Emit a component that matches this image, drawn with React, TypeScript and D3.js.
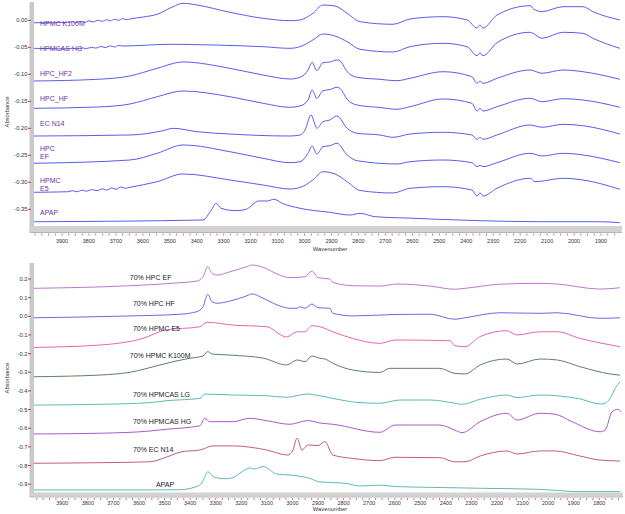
import React from 'react';
import * as d3 from 'd3';

type Pt = [number, number];

// ---------- top panel: neat polymers + APAP (wavenumber, absorbance) ----------
const topK100M: Pt[] = [
  [4004, -0.0044], [3940, -0.0046], [3880, -0.004], [3860, -0.0025], [3850, -0.0045], [3830, -0.002],
  [3815, -0.004], [3800, -0.001], [3785, -0.003], [3765, 0.0], [3750, -0.002], [3735, 0.001], [3720, -0.001],
  [3705, 0.002], [3690, 0.0], [3675, 0.003], [3660, 0.001], [3648, 0.0024], [3600, 0.006], [3547, 0.0111],
  [3488, 0.0252], [3451, 0.0315], [3399, 0.0283], [3277, 0.0148], [3154, 0.0037], [3054, -0.0007],
  [3017, 0.0006], [2969, 0.013], [2932, 0.0283], [2887, 0.0265], [2842, 0.013], [2794, -0.0026],
  [2672, -0.0074], [2609, 0.0024], [2486, 0.0067], [2397, 0.0006], [2360, -0.0143], [2349, -0.0087],
  [2338, -0.0143], [2286, 0.0098], [2163, 0.027], [2150, 0.021], [2119, 0.016], [2041, 0.0252],
  [1967, 0.0252], [1930, 0.016], [1830, 0.0006],
];
const topHPMCASHG: Pt[] = [
  [4004, -0.0519], [3880, -0.053], [3860, -0.0515], [3845, -0.053], [3825, -0.051], [3810, -0.0525],
  [3790, -0.05], [3775, -0.0515], [3755, -0.0485], [3740, -0.0505], [3720, -0.0475], [3705, -0.0495],
  [3690, -0.0465], [3674, -0.0476], [3499, -0.0444], [3340, -0.0457], [3154, -0.0489], [3054, -0.0519],
  [3017, -0.0489], [2969, -0.0365], [2932, -0.0254], [2887, -0.0291], [2842, -0.0396], [2794, -0.0537],
  [2672, -0.0587], [2609, -0.0489], [2486, -0.0426], [2397, -0.0489], [2360, -0.0656], [2349, -0.06],
  [2338, -0.0656], [2286, -0.0415], [2163, -0.0222], [2119, -0.0333], [2041, -0.0222], [1967, -0.0241],
  [1930, -0.0333], [1830, -0.0519],
];
const topHPCHF2: Pt[] = [
  [4004, -0.1124], [3770, -0.1093], [3648, -0.1031], [3547, -0.0889], [3451, -0.0772], [3277, -0.0889],
  [3154, -0.1013], [3054, -0.1087], [3017, -0.1056], [2987, -0.092], [2972, -0.0778], [2954, -0.0933],
  [2932, -0.0785], [2906, -0.0772], [2880, -0.0735], [2868, -0.0754], [2842, -0.0952], [2805, -0.1056],
  [2720, -0.1093], [2657, -0.1119], [2609, -0.1074], [2486, -0.0952], [2379, -0.1044], [2360, -0.1167],
  [2349, -0.1124], [2338, -0.1167], [2286, -0.1074], [2163, -0.092], [2119, -0.0981], [2041, -0.092],
  [1967, -0.0952], [1830, -0.1093],
];
const topHPCHF: Pt[] = [
  [4004, -0.163], [3770, -0.1606], [3648, -0.155], [3547, -0.1415], [3451, -0.1309], [3277, -0.1415],
  [3154, -0.1537], [3054, -0.1611], [3017, -0.1587], [2987, -0.1476], [2972, -0.1291], [2954, -0.1444],
  [2932, -0.1304], [2906, -0.1281], [2880, -0.1241], [2868, -0.1263], [2842, -0.1463], [2805, -0.1569],
  [2720, -0.1615], [2657, -0.1648], [2609, -0.16], [2486, -0.1457], [2379, -0.1537], [2360, -0.168],
  [2349, -0.163], [2338, -0.168], [2286, -0.16], [2163, -0.1444], [2119, -0.1507], [2041, -0.1452],
  [1967, -0.1476], [1830, -0.1611],
];
const topECN14: Pt[] = [
  [4004, -0.2143], [3648, -0.2124], [3525, -0.2044], [3488, -0.2], [3399, -0.2063], [3277, -0.2106],
  [3054, -0.2143], [3017, -0.2124], [2998, -0.2031], [2976, -0.1754], [2954, -0.2], [2932, -0.1878],
  [2906, -0.1846], [2880, -0.1772], [2842, -0.2], [2805, -0.2093], [2720, -0.2124], [2672, -0.2167],
  [2609, -0.2106], [2486, -0.2074], [2379, -0.2124], [2360, -0.2204], [2349, -0.2167], [2338, -0.2204],
  [2286, -0.2124], [2163, -0.1939], [2119, -0.1981], [2041, -0.1926], [1967, -0.1952], [1830, -0.2106],
];
const topHPCEF: Pt[] = [
  [4004, -0.2648], [3648, -0.2587], [3547, -0.2463], [3451, -0.2309], [3277, -0.2433], [3154, -0.2556],
  [3054, -0.2637], [3017, -0.2619], [2987, -0.2463], [2972, -0.2328], [2954, -0.2476], [2932, -0.2341],
  [2906, -0.2322], [2880, -0.2278], [2842, -0.2494], [2805, -0.26], [2657, -0.2661], [2609, -0.2619],
  [2486, -0.2587], [2379, -0.2637], [2360, -0.2711], [2349, -0.2685], [2338, -0.2711], [2286, -0.2637],
  [2163, -0.2463], [2119, -0.2513], [2041, -0.2463], [1967, -0.2494], [1830, -0.2637],
];
const topHPMCE5: Pt[] = [
  [4004, -0.3185], [3880, -0.3175], [3860, -0.3155], [3845, -0.3175], [3825, -0.3145], [3810, -0.3165],
  [3790, -0.3135], [3770, -0.3155], [3750, -0.312], [3735, -0.3145], [3715, -0.3105], [3700, -0.313],
  [3680, -0.3085], [3665, -0.311], [3648, -0.3093], [3547, -0.2989], [3451, -0.2846], [3277, -0.2957],
  [3154, -0.305], [3054, -0.3124], [3017, -0.3096], [2969, -0.2957], [2932, -0.2804], [2887, -0.2846],
  [2842, -0.2989], [2794, -0.3152], [2672, -0.3198], [2609, -0.3111], [2486, -0.3081], [2379, -0.3143],
  [2360, -0.3254], [2349, -0.3193], [2338, -0.3254], [2286, -0.3111], [2163, -0.2926], [2145, -0.2989],
  [2041, -0.2926], [1967, -0.2957], [1830, -0.313],
];
const topAPAP: Pt[] = [
  [4004, -0.373], [3377, -0.3698], [3346, -0.3513], [3328, -0.3389], [3310, -0.3481], [3254, -0.3526],
  [3217, -0.35], [3169, -0.3346], [3139, -0.3346], [3113, -0.3315], [3083, -0.3389], [3017, -0.3481],
  [2906, -0.3556], [2831, -0.3606], [2794, -0.3574], [2738, -0.3637], [2590, -0.3667], [2506, -0.3685],
  [2349, -0.3711], [2126, -0.373], [1904, -0.373], [1830, -0.3748],
];

const topSeries = [topK100M, topHPMCASHG, topHPCHF2, topHPCHF, topECN14, topHPCEF, topHPMCE5, topAPAP];
const topNames = ['HPMC K100M', 'HPMCAS HG', 'HPC_HF2', 'HPC_HF', 'EC N14', 'HPC\nEF', 'HPMC\nE5', 'APAP'];
const topNameAt = [-0.0056, -0.0519, -0.0981, -0.1444, -0.1907, -0.237, -0.297, -0.356];
const topYTicks = [0, -0.05, -0.1, -0.15, -0.2, -0.25, -0.3, -0.35];
const topXTicks = [3900, 3800, 3700, 3600, 3500, 3400, 3300, 3200, 3100, 3000, 2900, 2800, 2700, 2600, 2500, 2400, 2300, 2200, 2100, 2000, 1900];

// ---------- bottom panel: 70% APAP dispersions ----------
const botHPCEF: Pt[] = [
  [4011, 0.15], [3635, 0.164], [3440, 0.18], [3374, 0.189], [3350, 0.212], [3331, 0.266], [3315, 0.231],
  [3295, 0.221], [3244, 0.239], [3178, 0.266], [3158, 0.275], [3115, 0.263], [3060, 0.227], [3010, 0.207],
  [2982, 0.209], [2951, 0.212], [2924, 0.243], [2900, 0.207], [2854, 0.2], [2842, 0.182], [2764, 0.164],
  [2658, 0.162], [2591, 0.173], [2462, 0.162], [2365, 0.145], [2325, 0.15], [2188, 0.172], [2032, 0.177],
  [1965, 0.173], [1797, 0.146], [1719, 0.153],
];
const botHPCHF: Pt[] = [
  [4011, -0.008], [3635, 0.002], [3440, 0.011], [3374, 0.025], [3350, 0.051], [3331, 0.118], [3315, 0.078],
  [3295, 0.07], [3244, 0.082], [3178, 0.11], [3158, 0.12], [3115, 0.097], [3060, 0.061], [3010, 0.043],
  [2982, 0.043], [2971, 0.051], [2951, 0.043], [2924, 0.066], [2900, 0.046], [2854, 0.043], [2842, 0.016],
  [2764, 0.002], [2591, 0.01], [2462, 0.011], [2365, -0.016], [2325, -0.008], [2188, 0.019], [2032, 0.016],
  [1965, 0.019], [1797, -0.011], [1719, -0.008],
];
const botHPMCE5: Pt[] = [
  [4011, -0.167], [3753, -0.154], [3584, -0.118], [3495, -0.073], [3362, -0.056], [3335, -0.032],
  [3233, -0.047], [3100, -0.056], [3023, -0.111], [2982, -0.083], [2951, -0.083], [2924, -0.05],
  [2893, -0.056], [2842, -0.083], [2764, -0.119], [2658, -0.145], [2599, -0.127], [2384, -0.131],
  [2365, -0.158], [2325, -0.163], [2266, -0.109], [2161, -0.077], [2122, -0.1], [2032, -0.083],
  [1965, -0.083], [1876, -0.118], [1719, -0.163],
];
const botHPMCK100M: Pt[] = [
  [4011, -0.324], [3753, -0.315], [3635, -0.3], [3518, -0.261], [3456, -0.24], [3401, -0.225],
  [3350, -0.213], [3331, -0.189], [3315, -0.202], [3244, -0.208], [3115, -0.224], [3023, -0.261],
  [2982, -0.234], [2951, -0.243], [2924, -0.213], [2893, -0.225], [2873, -0.229], [2842, -0.252],
  [2764, -0.288], [2658, -0.301], [2619, -0.279], [2424, -0.279], [2365, -0.306], [2325, -0.309],
  [2266, -0.261], [2161, -0.229], [2122, -0.256], [2032, -0.229], [1965, -0.234], [1876, -0.27],
  [1758, -0.309], [1719, -0.316],
];
const botHPMCASLG: Pt[] = [
  [4011, -0.476], [3753, -0.472], [3557, -0.463], [3495, -0.453], [3362, -0.44], [3343, -0.417],
  [3233, -0.422], [3100, -0.426], [3023, -0.434], [2943, -0.417], [2893, -0.426], [2842, -0.44],
  [2736, -0.463], [2658, -0.466], [2580, -0.449], [2462, -0.449], [2365, -0.466], [2337, -0.472],
  [2266, -0.445], [2161, -0.422], [2122, -0.436], [2032, -0.422], [1965, -0.426], [1876, -0.443],
  [1797, -0.47], [1777, -0.466], [1758, -0.44], [1738, -0.386], [1719, -0.351],
];
const botHPMCASHG: Pt[] = [
  [4011, -0.631], [3753, -0.627], [3557, -0.615], [3495, -0.606], [3362, -0.587], [3343, -0.547],
  [3323, -0.565], [3233, -0.565], [3167, -0.547], [3100, -0.56], [3010, -0.579], [2939, -0.559],
  [2893, -0.572], [2842, -0.579], [2658, -0.622], [2599, -0.583], [2424, -0.583], [2365, -0.61],
  [2337, -0.624], [2266, -0.565], [2161, -0.52], [2122, -0.556], [2032, -0.52], [1973, -0.525],
  [1907, -0.565], [1797, -0.619], [1777, -0.61], [1750, -0.512], [1727, -0.499], [1715, -0.512],
];
const botECN14: Pt[] = [
  [4011, -0.788], [3753, -0.785], [3557, -0.78], [3495, -0.756], [3432, -0.726], [3362, -0.717],
  [3311, -0.695], [3233, -0.695], [3100, -0.717], [3018, -0.744], [2998, -0.717], [2982, -0.653],
  [2963, -0.717], [2940, -0.69], [2900, -0.693], [2873, -0.672], [2842, -0.744], [2764, -0.762],
  [2658, -0.774], [2599, -0.756], [2424, -0.758], [2365, -0.78], [2325, -0.78], [2266, -0.749],
  [2161, -0.722], [2122, -0.738], [2032, -0.722], [1973, -0.722], [1876, -0.749], [1797, -0.771],
  [1719, -0.776],
];
const botAPAP: Pt[] = [
  [4011, -0.931], [3557, -0.931], [3440, -0.93], [3362, -0.905], [3346, -0.872], [3331, -0.833],
  [3307, -0.862], [3260, -0.871], [3233, -0.865], [3206, -0.842], [3167, -0.813], [3150, -0.819],
  [3115, -0.806], [3060, -0.846], [3010, -0.851], [2932, -0.869], [2893, -0.888], [2795, -0.895],
  [2736, -0.91], [2658, -0.905], [2599, -0.913], [2462, -0.917], [2266, -0.922], [2032, -0.928],
  [1876, -0.94], [1719, -0.94],
];

const botSeries = [botHPCEF, botHPCHF, botHPMCE5, botHPMCK100M, botHPMCASLG, botHPMCASHG, botECN14, botAPAP];
const botNames = ['70% HPC EF', '70% HPC HF', '70% HPMC E5', '70% HPMC K100M', '70% HPMCAS LG', '70% HPMCAS HG', '70% EC N14', 'APAP'];
const botNameAt = [0.207, 0.066, -0.068, -0.209, -0.418, -0.567, -0.713, -0.903];
const botNameWn = [3636, 3624, 3624, 3636, 3624, 3624, 3624, 3534];
const botColors = ['#bb78cc', '#6b6be2', '#e466b6', '#5f8062', '#5fb9b4', '#aa5ac8', '#c65a86', '#5fb8b8'];
const botYTicks = [0.2, 0.1, 0, -0.1, -0.2, -0.3, -0.4, -0.5, -0.6, -0.7, -0.8, -0.9];
const botXTicks = [3900, 3800, 3700, 3600, 3500, 3400, 3300, 3200, 3100, 3000, 2900, 2800, 2700, 2600, 2500, 2400, 2300, 2200, 2100, 2000, 1900, 1800];

const TOP_LINE = '#5b5bf2';
const LABEL_PURPLE = '#7030a0';
const AXIS_FONT = "'Liberation Sans', Arial, sans-serif";

interface PanelProps {
  series: Pt[][];
  colors: string[];
  xDom: [number, number];
  xRng: [number, number];
  yDom: [number, number];
  yRng: [number, number];
  yTicks: number[];
  yDigits: number;
  xTicks: number[];
  top: number;
  bandTop: number;
  bandBottom: number;
  plotRight: number;
  tickLabelY: number;
  titleY: number;
  absY: number;
  renderLabels: (x: d3.ScaleLinear<number, number>, y: d3.ScaleLinear<number, number>) => React.ReactNode;
}

function Panel(p: PanelProps) {
  const x = d3.scaleLinear().domain(p.xDom).range(p.xRng);
  const y = d3.scaleLinear().domain(p.yDom).range(p.yRng);
  const line = d3.line<Pt>().x(d => x(d[0])).y(d => y(d[1])).curve(d3.curveMonotoneX);
  const left = 34;
  const minor = d3.range(4050, 1650, -25).filter(v => x(v) >= left && x(v) <= p.plotRight);

  return (
    <g>
      {/* left gray bar */}
      <rect x={29.5} y={p.top} width={4.5} height={p.bandBottom - p.top} fill="#c9c9c9" />
      {/* bottom gray band */}
      <rect x={29.5} y={p.bandTop} width={p.plotRight + 2 - 29.5} height={p.bandBottom - p.bandTop} fill="#d2d2d2" />
      <line x1={29.5} x2={p.plotRight + 2} y1={p.bandBottom + 0.5} y2={p.bandBottom + 0.5} stroke="#b5b5b5" strokeWidth={1} />

      {/* y ticks */}
      {p.yTicks.map(t => (
        <g key={t}>
          <line x1={28} x2={31} y1={y(t)} y2={y(t)} stroke="#e03030" strokeWidth={1} />
          <text x={27.5} y={y(t)} dy="0.35em" textAnchor="end" fontSize={5.8} fill="#333" fontFamily={AXIS_FONT}>
            {t.toFixed(p.yDigits).replace(/^-0\.0+$/, m => m.slice(1))}
          </text>
        </g>
      ))}

      {/* x ticks */}
      {minor.map(v => (
        <line key={v} x1={x(v)} x2={x(v)} y1={p.bandBottom + 1.5} y2={p.bandBottom + 3.5} stroke="#e04848" strokeWidth={0.8} />
      ))}
      {p.xTicks.map(v => (
        <text key={v} x={x(v)} y={p.tickLabelY} dy="0.35em" textAnchor="middle" fontSize={5.5} fill="#333" fontFamily={AXIS_FONT}>
          {v}
        </text>
      ))}
      <text x={330} y={p.titleY} dy="0.35em" textAnchor="middle" fontSize={5.8} fill="#333" fontFamily={AXIS_FONT}>Wavenumber</text>
      <text transform={`translate(8.5,${p.absY}) rotate(-90)`} textAnchor="middle" fontSize={5.8} fill="#333" fontFamily={AXIS_FONT}>
        Absorbance
      </text>

      {/* spectra */}
      {p.series.map((s, i) => (
        <path key={i} d={line(s) || ''} fill="none" stroke={p.colors[i]} strokeWidth={1} strokeLinejoin="round" />
      ))}

      {p.renderLabels(x, y)}
    </g>
  );
}

export default function App() {
  return (
    <svg width={625} height={514} style={{ position: 'absolute', left: 0, top: 0, background: '#fff' }}>
      <Panel
        series={topSeries}
        colors={topSeries.map(() => TOP_LINE)}
        xDom={[3900, 1900]}
        xRng={[62, 601]}
        yDom={[0, -0.35]}
        yRng={[20.3, 209.3]}
        yTicks={topYTicks}
        yDigits={2}
        xTicks={topXTicks}
        top={2}
        bandTop={226}
        bandBottom={232}
        plotRight={620}
        tickLabelY={240.7}
        titleY={249}
        absY={112}
        renderLabels={(x, y) =>
          topNames.map((name, i) => (
            <text key={name} x={40} y={y(topNameAt[i])} fontSize={7} fill={LABEL_PURPLE} fontFamily={AXIS_FONT}>
              {name.split('\n').map((part, j) => (
                <tspan key={j} x={40} dy={j === 0 ? '0.35em' : 8}>{part}</tspan>
              ))}
            </text>
          ))
        }
      />
      <Panel
        series={botSeries}
        colors={botColors}
        xDom={[3900, 1800]}
        xRng={[62.3, 599.3]}
        yDom={[0, -0.9]}
        yRng={[316.3, 484.15]}
        yTicks={botYTicks}
        yDigits={1}
        xTicks={botXTicks}
        top={263}
        bandTop={492.5}
        bandBottom={496.5}
        plotRight={621}
        tickLabelY={503}
        titleY={509}
        absY={378}
        renderLabels={(x, y) =>
          botNames.map((name, i) => (
            <text key={name} x={x(botNameWn[i])} y={y(botNameAt[i])} dy="0.35em" fontSize={7} fill="#222"
              fontFamily={AXIS_FONT}>
              {name}
            </text>
          ))
        }
      />
    </svg>
  );
}
